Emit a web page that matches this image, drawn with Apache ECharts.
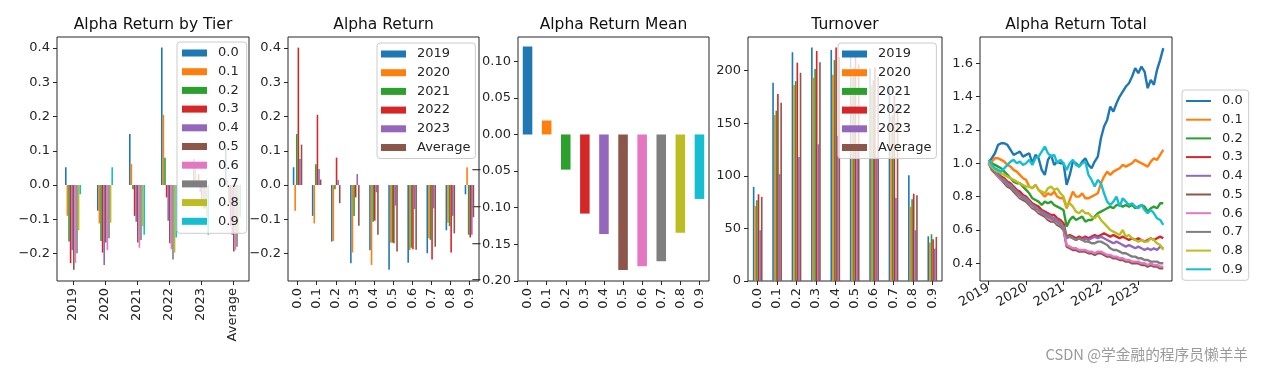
<!DOCTYPE html>
<html>
<head>
<meta charset="utf-8">
<script src="https://cdn.jsdelivr.net/npm/echarts@6/dist/echarts.min.js"></script>
<style>
  html, body { margin: 0; padding: 0; background: #fff; }
  #chart { width: 1265px; height: 373px; }
</style>
</head>
<body>
<div id="chart"></div>
<script>
// ---------------- DATA ----------------
const tiers = ['0.0', '0.1', '0.2', '0.3', '0.4', '0.5', '0.6', '0.7', '0.8', '0.9'];
const periods = ['2019', '2020', '2021', '2022', '2023', 'Average'];

// Alpha return per period (rows) and tier (columns)
const alpha2019    = [0.052, -0.090, -0.165, -0.228, -0.190, -0.247, -0.227, -0.199, -0.132, -0.027];
const alpha2020    = [-0.075, -0.112, -0.163, -0.197, -0.233, -0.168, -0.190, -0.155, -0.110, 0.052];
const alpha2021    = [0.149, 0.061, -0.012, -0.090, -0.107, -0.168, -0.183, -0.160, -0.120, -0.145];
const alpha2022    = [0.401, 0.205, 0.080, -0.036, -0.104, -0.170, -0.187, -0.217, -0.197, -0.153];
const alpha2023    = [0.076, 0.047, 0.015, 0.032, -0.021, -0.060, -0.070, -0.068, -0.090, -0.145];
const alphaAverage = [0.118, 0.016, -0.053, -0.119, -0.145, -0.194, -0.189, -0.180, -0.141, -0.094];

// Alpha return mean per tier
const alphaMean = [0.120, 0.019, -0.048, -0.108, -0.136, -0.185, -0.180, -0.173, -0.134, -0.088];

// Turnover per period (rows) and tier (columns)
const turn2019    = [89.5, 188.6, 217.5, 222.0, 219.7, 214.0, 202.0, 186.0, 100.6, 42.5];
const turn2020    = [71.4, 157.8, 186.3, 193.3, 196.0, 194.0, 186.0, 156.0, 70.5, 36.5];
const turn2021    = [76.8, 162.0, 190.0, 201.6, 210.0, 203.0, 191.0, 158.0, 77.8, 44.4];
const turn2022    = [82.5, 177.8, 207.6, 218.7, 222.0, 216.0, 203.0, 176.0, 83.0, 39.7];
const turn2023    = [48.3, 101.6, 118.0, 130.0, 138.0, 130.0, 118.0, 79.0, 48.3, 30.8];
const turnAverage = [80.0, 169.5, 198.0, 208.0, 213.0, 206.0, 194.0, 165.0, 81.6, 41.9];

// Cumulative alpha return (monthly samples)
const lineDates = [
  '2019-01-01','2019-02-01','2019-03-01','2019-04-01','2019-05-01','2019-06-01','2019-07-01','2019-08-01','2019-09-01','2019-10-01','2019-11-01','2019-12-01',
  '2020-01-01','2020-02-01','2020-03-01','2020-04-01','2020-05-01','2020-06-01','2020-07-01','2020-08-01','2020-09-01','2020-10-01','2020-11-01','2020-12-01',
  '2021-01-01','2021-02-01','2021-03-01','2021-04-01','2021-05-01','2021-06-01','2021-07-01','2021-08-01','2021-09-01','2021-10-01','2021-11-01','2021-12-01',
  '2022-01-01','2022-02-01','2022-03-01','2022-04-01','2022-05-01','2022-06-01','2022-07-01','2022-08-01','2022-09-01','2022-10-01','2022-11-01','2022-12-01',
  '2023-01-01','2023-02-01','2023-03-01','2023-04-01','2023-05-01','2023-06-01','2023-07-01','2023-08-01','2023-09-01'
];
const total00 = [1.01,1.03,1.06,1.11,1.12,1.12,1.11,1.08,1.05,1.06,1.07,1.04, 1.05,1.06,1.00,1.05,1.03,0.96,0.93,1.02,1.05,0.99,1.01,1.00, 1.00,0.87,0.93,1.01,1.00,0.98,1.01,1.03,0.99,0.97,1.01,1.04, 1.15,1.22,1.26,1.34,1.31,1.36,1.40,1.43,1.46,1.48,1.52,1.57, 1.54,1.58,1.55,1.45,1.50,1.47,1.56,1.62,1.69];
const total01 = [1.00,1.01,1.03,1.03,1.02,1.01,0.99,0.98,0.96,0.95,0.93,0.91, 0.90,0.86,0.85,0.87,0.84,0.82,0.80,0.82,0.81,0.83,0.80,0.79, 0.79,0.73,0.78,0.83,0.80,0.80,0.82,0.79,0.79,0.80,0.81,0.82, 0.88,0.92,0.95,0.93,0.95,0.96,0.97,0.99,0.98,0.99,1.00,1.02, 1.01,1.00,0.99,0.98,1.01,1.03,1.02,1.05,1.08];
const total02 = [1.00,1.00,0.99,0.98,0.97,0.95,0.93,0.91,0.89,0.88,0.88,0.86, 0.84,0.82,0.79,0.78,0.77,0.75,0.77,0.76,0.77,0.75,0.74,0.73, 0.72,0.62,0.66,0.68,0.66,0.67,0.68,0.65,0.66,0.66,0.68,0.70, 0.71,0.72,0.73,0.74,0.73,0.75,0.75,0.74,0.75,0.74,0.75,0.73, 0.74,0.75,0.74,0.71,0.73,0.74,0.73,0.76,0.76];
const total03 = [1.00,0.98,0.96,0.94,0.92,0.91,0.89,0.88,0.86,0.84,0.83,0.81, 0.80,0.78,0.76,0.75,0.74,0.72,0.71,0.70,0.69,0.69,0.67,0.66, 0.64,0.56,0.57,0.56,0.55,0.56,0.55,0.56,0.55,0.56,0.57,0.56, 0.57,0.58,0.57,0.56,0.57,0.56,0.55,0.56,0.55,0.54,0.55,0.54, 0.55,0.54,0.53,0.54,0.55,0.54,0.55,0.56,0.55];
const total04 = [1.00,0.97,0.95,0.93,0.91,0.90,0.88,0.87,0.85,0.83,0.81,0.80, 0.79,0.77,0.75,0.74,0.72,0.71,0.70,0.69,0.68,0.67,0.66,0.64, 0.62,0.55,0.56,0.55,0.54,0.55,0.54,0.55,0.54,0.55,0.56,0.55, 0.56,0.55,0.54,0.53,0.52,0.53,0.52,0.51,0.50,0.51,0.50,0.49, 0.50,0.49,0.48,0.49,0.48,0.49,0.48,0.50,0.49];
const total05 = [1.00,0.96,0.94,0.92,0.90,0.88,0.86,0.85,0.83,0.81,0.79,0.78, 0.77,0.75,0.73,0.72,0.70,0.69,0.68,0.66,0.65,0.65,0.63,0.62, 0.60,0.50,0.49,0.48,0.48,0.47,0.47,0.47,0.46,0.46,0.45,0.46, 0.46,0.45,0.44,0.44,0.43,0.43,0.42,0.42,0.41,0.41,0.40,0.40, 0.40,0.39,0.39,0.38,0.39,0.38,0.38,0.37,0.37];
const total06 = [1.00,0.97,0.95,0.92,0.90,0.89,0.87,0.86,0.84,0.82,0.80,0.79, 0.78,0.76,0.74,0.73,0.71,0.70,0.69,0.67,0.66,0.66,0.64,0.63, 0.61,0.51,0.50,0.49,0.49,0.48,0.48,0.48,0.47,0.47,0.46,0.47, 0.47,0.46,0.45,0.45,0.44,0.44,0.43,0.43,0.42,0.42,0.41,0.41, 0.41,0.40,0.40,0.39,0.40,0.39,0.39,0.38,0.38];
const total07 = [1.00,0.97,0.95,0.93,0.91,0.89,0.87,0.86,0.84,0.82,0.81,0.79, 0.78,0.76,0.75,0.73,0.72,0.70,0.69,0.68,0.67,0.66,0.65,0.63, 0.61,0.56,0.56,0.55,0.54,0.55,0.54,0.53,0.53,0.52,0.52,0.53, 0.53,0.52,0.51,0.49,0.48,0.48,0.47,0.46,0.46,0.45,0.44,0.44, 0.43,0.43,0.42,0.42,0.41,0.41,0.41,0.40,0.40];
const total08 = [1.00,0.98,0.96,0.95,0.94,0.93,0.92,0.91,0.90,0.89,0.88,0.87, 0.86,0.86,0.85,0.87,0.84,0.83,0.82,0.85,0.86,0.84,0.85,0.82, 0.80,0.74,0.76,0.74,0.71,0.70,0.72,0.70,0.70,0.68,0.67,0.69, 0.66,0.64,0.62,0.60,0.59,0.58,0.57,0.60,0.56,0.57,0.55,0.54, 0.53,0.54,0.53,0.53,0.55,0.54,0.52,0.51,0.48];
const total09 = [1.02,0.99,0.97,0.96,0.95,0.97,0.99,1.01,1.02,1.00,1.01,0.99, 1.00,1.02,0.99,1.03,1.04,1.07,1.10,1.06,1.04,1.05,1.00,1.02, 1.00,0.96,1.00,1.02,0.99,0.98,1.00,1.01,0.93,0.90,0.86,0.90, 0.88,0.82,0.77,0.75,0.77,0.80,0.74,0.79,0.77,0.75,0.76,0.74, 0.73,0.75,0.72,0.70,0.72,0.70,0.67,0.66,0.63];

// Tick labels
const returnTicks = [-0.2, -0.1, 0.0, 0.1, 0.2, 0.3, 0.4];
const meanTicks = [-0.20, -0.15, -0.10, -0.05, 0.00, 0.05, 0.10];
const turnTicks = [0, 50, 100, 150, 200];
const totalTicks = [0.4, 0.6, 0.8, 1.0, 1.2, 1.4, 1.6];
const yearTicks = [2019, 2020, 2021, 2022, 2023];
const titles = ['Alpha Return by Tier', 'Alpha Return', 'Alpha Return Mean', 'Turnover', 'Alpha Return Total'];

// ---------------- CHART ----------------
const tab10 = ['#1f77b4', '#ff7f0e', '#2ca02c', '#d62728', '#9467bd', '#8c564b', '#e377c2', '#7f7f7f', '#bcbd22', '#17becf'];
const FONT = 'DejaVu Sans';
const TXT = '#262626';
const FS = 13;

const alphaRows = [alpha2019, alpha2020, alpha2021, alpha2022, alpha2023, alphaAverage];
const turnRows = [turn2019, turn2020, turn2021, turn2022, turn2023, turnAverage];
const totalRows = [total00, total01, total02, total03, total04, total05, total06, total07, total08, total09];

// date string -> decimal year (position on the year axis)
function decYear(s) { const p = s.split('-').map(Number); return p[0] + (p[1] - 1) / 12 + (p[2] - 1) / 365; }
function fmt(dec) {
  return function (v) {
    const r = Math.abs(v) < 1e-9 ? 0 : v;
    return (r < 0 ? '\u2212' : '') + Math.abs(r).toFixed(dec);
  };
}

const gridDefs = [
  { left: 57, width: 192 },
  { left: 288, width: 191 },
  { left: 518, width: 191 },
  { left: 748, width: 194 },
  { left: 980, width: 192 }
];
const grids = gridDefs.map(g => ({
  left: g.left, top: 37, width: g.width, height: 244,
  show: true, borderColor: TXT, borderWidth: 1, backgroundColor: 'transparent', containLabel: false
}));

const labelStyle = { fontSize: FS, color: TXT, fontFamily: FONT };

function catAxis(idx, data) {
  return {
    type: 'category', gridIndex: idx, data: data,
    axisLine: { show: false, onZero: false },
    axisTick: { show: true, alignWithLabel: true, length: 4, lineStyle: { color: TXT } },
    axisLabel: Object.assign({ rotate: 90, margin: 7, interval: 0 }, labelStyle),
    splitLine: { show: false }
  };
}
function valAxis(idx, min, max, ticks, f, extra) {
  return Object.assign({
    type: 'value', gridIndex: idx, min: min, max: max,
    axisLine: { show: false, onZero: false },
    axisTick: { show: true, length: 4, lineStyle: { color: TXT }, customValues: ticks },
    axisLabel: Object.assign({ margin: 7, customValues: ticks, formatter: f }, labelStyle),
    splitLine: { show: false }
  }, extra || {});
}

const xAxes = [
  catAxis(0, periods),
  catAxis(1, tiers),
  catAxis(2, tiers),
  catAxis(3, tiers),
  (function () {
    const a = valAxis(4, 2018.767, 2023.9, yearTicks, function (v) { return String(Math.round(v)); });
    a.axisLabel.rotate = 30;
    a.axisLabel.margin = 6;
    return a;
  })()
];
const yAxes = [
  valAxis(0, -0.28, 0.432, returnTicks, fmt(1)),
  valAxis(1, -0.28, 0.432, returnTicks, fmt(1)),
  valAxis(2, -0.2, 0.133, meanTicks, fmt(2)),
  valAxis(3, 0, 232, turnTicks, fmt(0)),
  valAxis(4, 0.294, 1.757, totalTicks, fmt(1))
];

const series = [];
tiers.forEach((t, i) => {
  series.push({
    type: 'bar', name: t, xAxisIndex: 0, yAxisIndex: 0,
    data: alphaRows.map(r => r[i]),
    itemStyle: { color: tab10[i] }, barGap: '0%', barCategoryGap: '50%'
  });
});
periods.forEach((p, j) => {
  series.push({
    type: 'bar', name: p, xAxisIndex: 1, yAxisIndex: 1,
    data: alphaRows[j],
    itemStyle: { color: tab10[j] }, barGap: '0%', barCategoryGap: '50%'
  });
});
series.push({
  type: 'bar', name: 'Mean', xAxisIndex: 2, yAxisIndex: 2,
  data: alphaMean.map((v, i) => ({ value: v, itemStyle: { color: tab10[i] } })),
  barCategoryGap: '50%'
});
periods.forEach((p, j) => {
  series.push({
    type: 'bar', name: p, xAxisIndex: 3, yAxisIndex: 3,
    data: turnRows[j],
    itemStyle: { color: tab10[j] }, barGap: '0%', barCategoryGap: '50%'
  });
});
tiers.forEach((t, i) => {
  series.push({
    type: 'line', name: t, xAxisIndex: 4, yAxisIndex: 4,
    data: lineDates.map((d, k) => [decYear(d), totalRows[i][k]]),
    showSymbol: false, symbol: 'none',
    lineStyle: { width: 2.4, color: tab10[i] }, itemStyle: { color: tab10[i] }
  });
});

function legendDef(left, top, names, icon, itemH, pad) {
  return {
    orient: 'vertical', left: left, top: top, data: names,
    icon: icon, itemWidth: 25, itemHeight: itemH, itemGap: 4.7,
    padding: pad,
    backgroundColor: 'rgba(255,255,255,0.8)', borderColor: '#cccccc', borderWidth: 1, borderRadius: 3,
    selectedMode: false,
    textStyle: { fontSize: FS, color: TXT, fontFamily: FONT, lineHeight: 14, padding: [0, 0, 0, 6] }
  };
}

const legends = [
  legendDef(177, 42, tiers, 'rect', 7, [4, 8, 5, 5]),
  legendDef(377, 43, periods, 'rect', 7, [4, 5, 4, 4]),
  legendDef(838, 43, periods, 'rect', 7, [4, 5, 4, 4]),
  legendDef(1182, 90, tiers, 'rect', 2, [4, 6, 4, 4])
];

const titleCenters = gridDefs.map(g => g.left + g.width / 2);
const graphics = titles.map((t, i) => ({
  type: 'text', x: titleCenters[i], y: 25, z: 10,
  style: { text: t, textAlign: 'center', textVerticalAlign: 'middle', fontSize: 15.5, fontFamily: FONT, fill: '#111' }
}));
graphics.push({
  type: 'text', x: 1248, y: 354, z: 10,
  style: { text: 'CSDN @学金融的程序员懒羊羊', textAlign: 'right', textVerticalAlign: 'middle', fontSize: 14.7, fontFamily: 'Noto Sans CJK SC', fill: '#9a9a9a' }
});

const chart = echarts.init(document.getElementById('chart'), null, { renderer: 'canvas' });
chart.setOption({
  animation: false,
  backgroundColor: '#ffffff',
  grid: grids,
  xAxis: xAxes,
  yAxis: yAxes,
  legend: legends,
  graphic: graphics,
  series: series
});
</script>
</body>
</html>
